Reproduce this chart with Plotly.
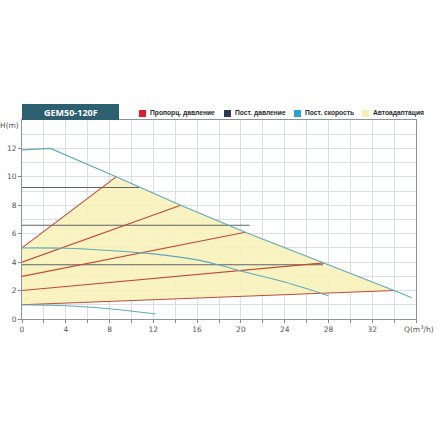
import plotly.graph_objects as go

# ---- data ----
max_q = [0, 2.6, 8.6, 14.5, 20.4, 27.6, 34.0, 35.6]
max_h = [11.9, 12.0, 10.0, 8.0, 6.1, 3.95, 2.0, 1.5]

mid_q = [0, 4, 8, 12, 16, 18, 20, 24, 28]
mid_h = [5.0, 4.98, 4.82, 4.58, 4.16, 3.8, 3.38, 2.6, 1.63]

low_q = [0, 4, 8, 12.2]
low_h = [1.0, 0.93, 0.72, 0.35]

# proportional pressure lines: start H at Q=0, end point on max curve
prop_start_h = [5.0, 4.0, 3.0, 2.0, 1.0]
prop_end_q = [8.6, 14.5, 20.4, 27.6, 34.0]
prop_end_h = [10.0, 8.0, 6.1, 3.95, 2.0]

# constant pressure lines
const_h = [9.25, 6.6, 3.82]
const_end_q = [10.7, 20.8, 27.5]

x_ticks = [0, 4, 8, 12, 16, 20, 24, 28, 32]
y_ticks = [0, 2, 4, 6, 8, 10, 12]

legend_labels = ["Пропорц. давление", "Пост. давление", "Пост. скорость", "Автоадаптация"]
title_text = "GEM50-120F"

# ---- styles ----
RED = "#c24a38"
GRAY = "#5b6469"
TEAL = "#5eaabb"
YELLOW_FILL = "rgba(248,242,190,0.95)"
legend_colors = ["#d7202a", "#2b3a55", "#2f9fd6", "#f7efb0"]
GRID = "#d9dfe2"

fig = go.Figure()

# auto-adapt fill region
sel = [(q, h) for q, h in zip(max_q, max_h) if prop_end_q[0] <= q <= prop_end_q[-1]]
fill_q = [0] + [q for q, _ in sel] + [0]
fill_h = [prop_start_h[0]] + [h for _, h in sel] + [prop_start_h[-1]]
fig.add_trace(go.Scatter(x=fill_q, y=fill_h, fill="toself", fillcolor=YELLOW_FILL,
                         line=dict(width=0), mode="lines", hoverinfo="skip"))

# constant pressure lines
for h, qe in zip(const_h, const_end_q):
    fig.add_trace(go.Scatter(x=[0, qe], y=[h, h], mode="lines",
                             line=dict(color=GRAY, width=1.1)))

# proportional lines
for hs, qe, he in zip(prop_start_h, prop_end_q, prop_end_h):
    fig.add_trace(go.Scatter(x=[0, qe], y=[hs, he], mode="lines",
                             line=dict(color=RED, width=1.1)))

# speed curves
fig.add_trace(go.Scatter(x=max_q, y=max_h, mode="lines", line=dict(color=TEAL, width=1.1)))
fig.add_trace(go.Scatter(x=mid_q, y=mid_h, mode="lines", line=dict(color=TEAL, width=1.1, shape="spline")))
fig.add_trace(go.Scatter(x=low_q, y=low_h, mode="lines", line=dict(color=TEAL, width=1.1, shape="spline")))

W = H = 440
PL, PR, PT, PB = 22, 416, 120, 319  # target plot box in screen pixels
L = PL
T = PT
pw = PR - PL
ph = PB - PT
R = W - L - pw
B = H - T - ph


def xp(px):
    return (px - PL) / pw


def yp(py):
    return (PB - py) / ph


shapes = []
annotations = []

# title box
shapes.append(dict(type="rect", xref="paper", yref="paper", x0=xp(22), x1=xp(119), y0=yp(120), y1=yp(104),
                   fillcolor="#2c5f70", line=dict(width=0)))
annotations.append(dict(text="<b>" + title_text + "</b>", xref="paper", yref="paper", x=xp(71), y=yp(112),
                        showarrow=False, font=dict(color="white", size=9, family="Open Sans"),
                        xanchor="center", yanchor="middle"))

# legend
sq_x = [139, 224, 294, 362]
for x0, col, lab in zip(sq_x, legend_colors, legend_labels):
    shapes.append(dict(type="rect", xref="paper", yref="paper", x0=xp(x0), x1=xp(x0 + 7),
                       y0=yp(117), y1=yp(110), fillcolor=col, line=dict(width=0)))
    annotations.append(dict(text="<b>" + lab + "</b>", xref="paper", yref="paper", x=xp(x0 + 9), y=yp(113.5),
                            showarrow=False, xanchor="left", yanchor="middle",
                            font=dict(size=6.7, color="#2a2a2a", family="Liberation Sans")))

# axis titles
annotations.append(dict(text="H(m)", xref="paper", yref="paper", x=xp(21), y=yp(125),
                        showarrow=False, xanchor="right", yanchor="middle",
                        font=dict(size=7.5, color="#555", family="DejaVu Sans")))
annotations.append(dict(text="Q(m<sup>3</sup>/h)", xref="paper", yref="paper", x=xp(402), y=yp(329),
                        showarrow=False, xanchor="left", yanchor="middle",
                        font=dict(size=7.5, color="#555", family="DejaVu Sans")))

fig.update_layout(
    width=W, height=H, margin=dict(l=L, r=R, t=T, b=B, autoexpand=False),
    paper_bgcolor="white", plot_bgcolor="white", showlegend=False,
    shapes=shapes, annotations=annotations,
)
fig.update_xaxes(range=[0, 36], tickvals=x_ticks, ticks="outside", ticklen=3, tickcolor="#888",
                 showgrid=True, gridcolor=GRID, gridwidth=1, automargin=False,
                 minor=dict(dtick=2, showgrid=True, gridcolor=GRID, ticks="outside", ticklen=3, tickcolor="#888"),
                 showline=True, linecolor="#8a9499", linewidth=1, mirror=True,
                 tickfont=dict(size=7.5, color="#555", family="DejaVu Sans"), zeroline=False)
fig.update_yaxes(range=[0, 14], tickvals=y_ticks, ticks="outside", ticklen=3, tickcolor="#888",
                 showgrid=True, gridcolor=GRID, gridwidth=1, automargin=False,
                 minor=dict(dtick=1, showgrid=True, gridcolor=GRID),
                 showline=True, linecolor="#8a9499", linewidth=1, mirror=True,
                 tickfont=dict(size=7.5, color="#555", family="DejaVu Sans"), zeroline=False)

fig.write_html("out.html", config={"displayModeBar": False},
               post_script="document.body.style.margin='0px';")
